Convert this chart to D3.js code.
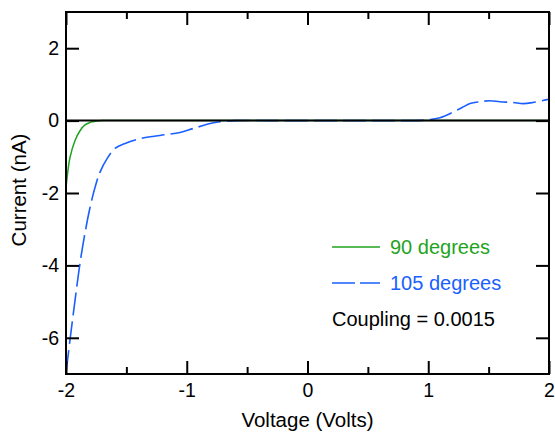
<!DOCTYPE html>
<html>
<head>
<meta charset="utf-8">
<script src="https://cdn.jsdelivr.net/npm/d3@7/dist/d3.min.js"></script>
<style>
  html, body { margin: 0; padding: 0; background: #fff; }
  svg { display: block; font-family: "Liberation Sans", Arial, Helvetica, sans-serif; }
</style>
</head>
<body>
<svg id="chart" width="555" height="434"></svg>
<script>
// Voltage sweep samples (Volts) and measured current (nA)
const voltage90 = [-2.0, -1.967, -1.925, -1.884, -1.843, -1.80, -1.776, -1.74, -1.70, -1.5, 0, 2.0];
const current90 = [-1.85, -1.02, -0.55, -0.28, -0.12, -0.05, -0.03, -0.01, 0, 0, 0, 0];

const voltage105 = [-2.0, -1.967, -1.925, -1.884, -1.843, -1.801, -1.760, -1.719, -1.660, -1.594, -1.511,
  -1.387, -1.222, -1.056, -0.948, -0.807, -0.725, -0.60, -0.3, 0.3, 0.85, 0.95, 1.014, 1.097, 1.197,
  1.280, 1.346, 1.429, 1.511, 1.594, 1.702, 1.785, 1.867, 1.983, 2.0];
const current105 = [-6.97, -6.06, -4.96, -3.94, -3.11, -2.40, -1.85, -1.43, -1.05, -0.77, -0.63,
  -0.50, -0.41, -0.33, -0.22, -0.08, -0.03, 0, 0, 0, 0, 0.005, 0.03, 0.08, 0.22,
  0.36, 0.47, 0.52, 0.55, 0.52, 0.50, 0.47, 0.50, 0.58, 0.59];

const xTicks = [-2, -1, 0, 1, 2];
const xMinorTicks = [-1.5, -0.5, 0.5, 1.5];
const yTicks = [-6, -4, -2, 0, 2];

const seriesNames = ["90 degrees", "105 degrees"];
const seriesColors = ["#1fa31f", "#1a5fff"];
const couplingNote = "Coupling = 0.0015";

const svg = d3.select("#chart");
const plotLeft = 66, plotRight = 549, plotTop = 12, plotBottom = 374;

const x = d3.scaleLinear().domain([-2, 2]).range([plotLeft, plotRight]);
const y = d3.scaleLinear().domain([-7, 3]).range([plotBottom, plotTop]);

const MAJOR = 13, MINOR = 7;
const TICK_FONT = 19.5, TITLE_FONT = 20.5, LEGEND_FONT = 20;
const plainNumber = d => String(d);

// curves
const line = d3.line().x(d => x(d[0])).y(d => y(d[1])).curve(d3.curveCatmullRom.alpha(0.5));
const plot = svg.append("g");
plot.append("path")
  .datum(d3.zip(voltage90, current90))
  .attr("d", line)
  .attr("fill", "none")
  .attr("stroke", seriesColors[0])
  .attr("stroke-width", 1.5);
plot.append("path")
  .datum(d3.zip(voltage105, current105))
  .attr("d", line)
  .attr("fill", "none")
  .attr("stroke", seriesColors[1])
  .attr("stroke-width", 1.6)
  .attr("stroke-dasharray", "23,6");

// zero line
svg.append("line")
  .attr("x1", x(-2)).attr("x2", x(2))
  .attr("y1", y(0)).attr("y2", y(0))
  .attr("stroke", "#000").attr("stroke-width", 2);

// axes (ticks pointing inward, labels only on bottom/left)
function styleAxis(g) {
  g.select(".domain").remove();
  g.selectAll(".tick line").attr("stroke", "#000").attr("stroke-width", 2);
  g.selectAll("text").attr("fill", "#000").attr("font-size", TICK_FONT);
}

const xBottom = svg.append("g").attr("transform", `translate(0,${plotBottom})`)
  .call(d3.axisBottom(x).tickValues(xTicks).tickSize(-MAJOR).tickPadding(9).tickFormat(plainNumber));
styleAxis(xBottom);
const xBottomMinor = svg.append("g").attr("transform", `translate(0,${plotBottom})`)
  .call(d3.axisBottom(x).tickValues(xMinorTicks).tickSize(-MINOR).tickFormat(""));
styleAxis(xBottomMinor);
const xTop = svg.append("g").attr("transform", `translate(0,${plotTop})`)
  .call(d3.axisTop(x).tickValues(xTicks).tickSize(-MAJOR).tickFormat(""));
styleAxis(xTop);
const xTopMinor = svg.append("g").attr("transform", `translate(0,${plotTop})`)
  .call(d3.axisTop(x).tickValues(xMinorTicks).tickSize(-MINOR).tickFormat(""));
styleAxis(xTopMinor);

const yLeft = svg.append("g").attr("transform", `translate(${plotLeft},0)`)
  .call(d3.axisLeft(y).tickValues(yTicks).tickSize(-MAJOR).tickPadding(7).tickFormat(plainNumber));
styleAxis(yLeft);
const yRight = svg.append("g").attr("transform", `translate(${plotRight},0)`)
  .call(d3.axisRight(y).tickValues(yTicks).tickSize(-MAJOR).tickFormat(""));
styleAxis(yRight);

// frame
svg.append("rect")
  .attr("x", plotLeft).attr("y", plotTop)
  .attr("width", plotRight - plotLeft).attr("height", plotBottom - plotTop)
  .attr("fill", "none").attr("stroke", "#000").attr("stroke-width", 2);

// axis titles
svg.append("text")
  .attr("x", x(0)).attr("y", 427)
  .attr("text-anchor", "middle").attr("font-size", TITLE_FONT)
  .text("Voltage (Volts)");
svg.append("text")
  .attr("transform", `translate(26,190) rotate(-90)`)
  .attr("text-anchor", "middle").attr("font-size", TITLE_FONT)
  .text("Current (nA)");

// legend
const legend = svg.append("g");
const legendRows = [247, 283];
seriesNames.forEach((name, i) => {
  legend.append("line")
    .attr("x1", 332).attr("x2", 380)
    .attr("y1", legendRows[i]).attr("y2", legendRows[i])
    .attr("stroke", seriesColors[i]).attr("stroke-width", 1.6)
    .attr("stroke-dasharray", i === 1 ? "23,5" : null);
  legend.append("text")
    .attr("x", 390).attr("y", legendRows[i] + 7)
    .attr("font-size", LEGEND_FONT).attr("fill", seriesColors[i])
    .text(name);
});
legend.append("text")
  .attr("x", 332).attr("y", 326)
  .attr("font-size", LEGEND_FONT).attr("fill", "#000")
  .text(couplingNote);
</script>
</body>
</html>
